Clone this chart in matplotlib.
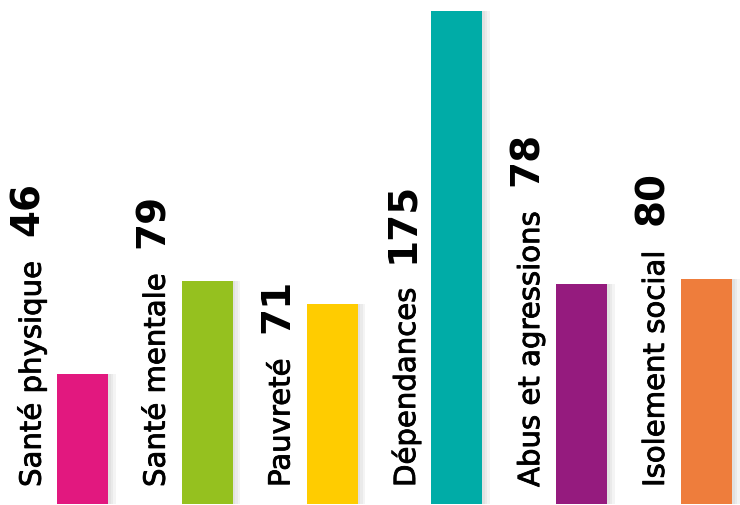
import matplotlib
matplotlib.use("Agg")
import matplotlib.pyplot as plt
import matplotlib.patheffects as pe

categories = ["Santé physique", "Santé mentale", "Pauvreté", "Dépendances",
              "Abus et agressions", "Isolement social"]
values = [46, 79, 71, 175, 78, 80]
colors = ["#E2187F", "#95C11F", "#FFCC00", "#00ACA7", "#951B7E", "#EE7D3C"]

plt.rcParams['font.family'] = ['DejaVu Sans']

fig = plt.figure(figsize=(7.4, 5.06), dpi=100)
ax = fig.add_axes([0, 1 / 506, 1, 493 / 506])

x = list(range(len(values)))
width = 0.41

# soft shadow on the right of each bar
for k, a in [(0.06, 0.10), (0.04, 0.10), (0.02, 0.10)]:
    ax.bar([i + k for i in x], values, width=width, color="#999999",
           alpha=a, linewidth=0, zorder=1)
ax.bar(x, values, width=width, color=colors, linewidth=0, zorder=2)

# labels a bit heavier than DejaVu regular
heavier = [pe.withStroke(linewidth=0.6, foreground='black')]

for i in x:
    lab = ax.annotate(categories[i], xy=(i - width / 2, 0),
                      xytext=(-25, 17), textcoords='offset pixels',
                      rotation=90, ha='center', va='bottom',
                      fontsize=21, color='black', path_effects=heavier)
    ax.annotate(str(values[i]), xy=(0.5, 1), xycoords=lab,
                xytext=(-4, 26), textcoords='offset pixels',
                rotation=90, ha='center', va='bottom',
                fontsize=28, fontweight='heavy', color='black')

ax.set_xlim(-82.5 / 124.8, 5 + (740 - 706.5) / 124.8)
ax.set_ylim(0, 175)
ax.axis('off')

fig.savefig("out.png", dpi=100)
